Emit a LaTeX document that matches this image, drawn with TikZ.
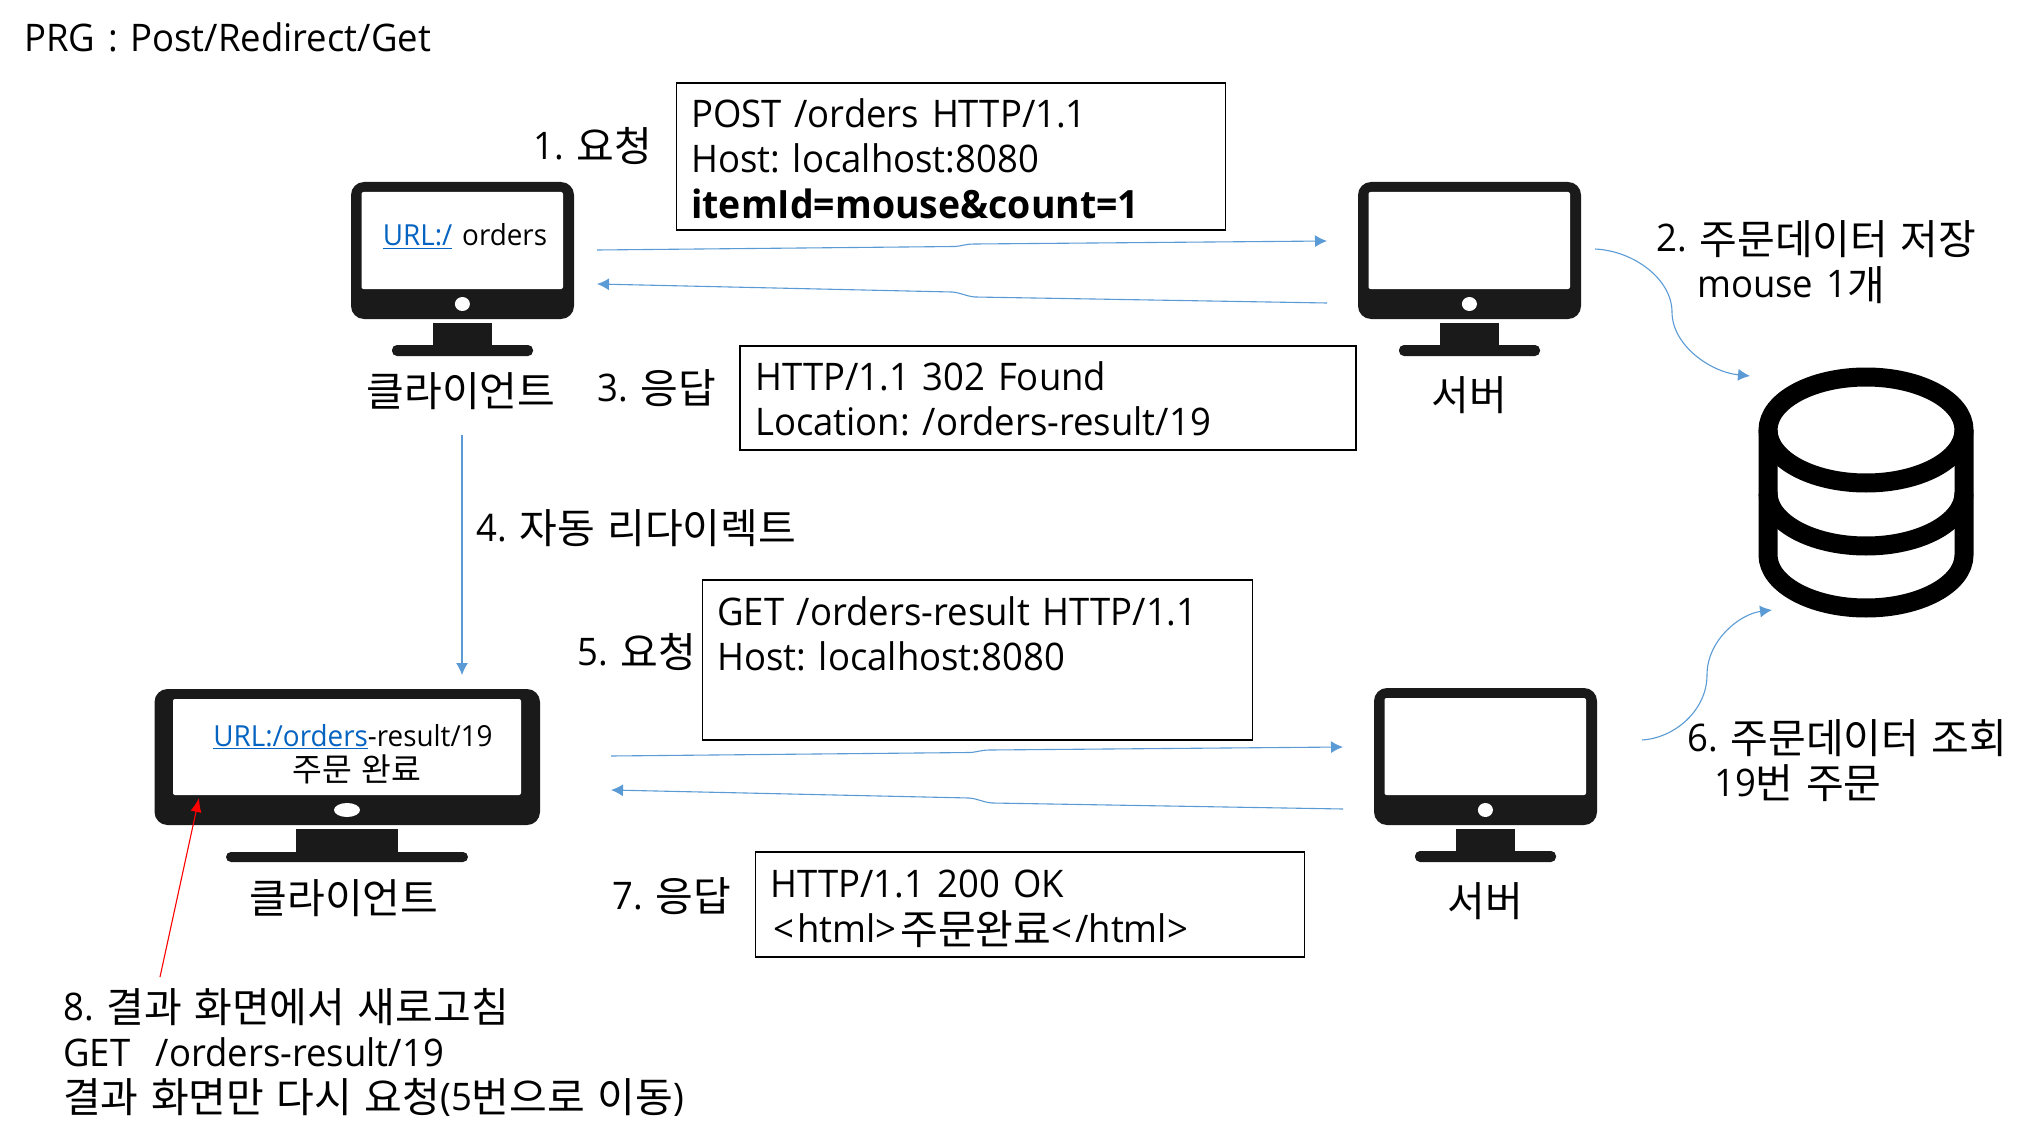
\documentclass[tikz,border=0pt]{standalone}
\usepackage{fontspec}
\setmainfont{Open Sans}[FakeStretch=0.96,WordSpace=1.35]
\newfontfamily\kr{Noto Sans CJK KR}[Scale=1.08,WordSpace=1.35]
\newcommand\K[1]{\raisebox{-2pt}{\kr #1}}
\usetikzlibrary{arrows.meta}
\definecolor{flow}{HTML}{5B9BD5}
\definecolor{monitor}{HTML}{1A1A1A}
\definecolor{linkblue}{HTML}{0563C1}
\newcommand\Lnk[1]{\textcolor{linkblue}{\underline{#1}}}
\newcommand\monitor[9]{%
  \fill[monitor,rounded corners=13pt] (#1,#3) rectangle (#2,#4);
  \fill[white,rounded corners=2pt] (#5,#3+10) -- (#5,#4-30) -- (#6,#4-30) -- (#6,#3+10) -- cycle;
  \fill[white] (#7,#4-15) ellipse [x radius=#8,y radius=7];
  \fill[monitor] (#7-#9,#4+4) rectangle (#7+#9,#4+27);
}
\tikzset{
  txt/.style={anchor=base west,inner sep=0pt,font=\fontsize{38}{45}\selectfont},
  ctr/.style={anchor=base,inner sep=0pt,font=\fontsize{38}{45}\selectfont},
  small/.style={anchor=base,inner sep=0pt,font=\fontsize{29}{36}\selectfont},
  msgbox/.style={draw=black,line width=1.8pt,fill=none},
  flowline/.style={draw=flow,line width=1.1pt,-{Latex[length=12pt,width=12pt]}},
  redline/.style={draw=red,line width=1.1pt,-{Latex[length=14pt,width=11pt]}}
}
\frenchspacing
\begin{document}
\begin{tikzpicture}[x=1pt,y=-1pt]
\useasboundingbox (0,0) rectangle (2030,1142);
\fill[white] (0,0) rectangle (2030,1142);

% monitors
\monitor{351}{574}{182}{319}{361.5}{563}{462.4}{7.5}{29.5}
\fill[monitor,rounded corners=5pt] (392,345) rectangle (533,356);
\begin{scope}[xshift=1007pt]
\monitor{351}{574}{182}{319}{361.5}{563}{462.4}{7.5}{29.5}
\fill[monitor,rounded corners=5pt] (392,345) rectangle (533,356);
\end{scope}
\begin{scope}[xshift=1023pt,yshift=-506pt]
\monitor{351}{574}{182}{319}{361.5}{563}{462.4}{7.5}{29.5}
\fill[monitor,rounded corners=5pt] (392,345) rectangle (533,356);
\end{scope}
\monitor{154.5}{540}{689}{825}{173}{521}{347}{13}{51}
\fill[monitor,rounded corners=5pt] (226,852) rectangle (468,862);

% database
\begin{scope}[line width=19pt,draw=black]
\draw (1866,430) ellipse [x radius=98,y radius=53];
\draw (1768,430) -- (1768,555) arc[start angle=180,end angle=360,x radius=98,y radius=-53] -- (1964,430);
\draw (1768,493) arc[start angle=180,end angle=360,x radius=98,y radius=-53];
\end{scope}

% text boxes
\node[msgbox,minimum width=549pt,minimum height=147pt,anchor=north west] (req1) at (675.5,82) {};
\node[msgbox,minimum width=616pt,minimum height=104pt,anchor=north west] (res1) at (739,345) {};
\node[msgbox,minimum width=550pt,minimum height=160pt,anchor=north west] (req2) at (701.5,579) {};
\node[msgbox,minimum width=549pt,minimum height=105pt,anchor=north west] (res2) at (754.5,851) {};

\node[txt] (t0) at (24,52) {PRG : Post/Redirect/Get};
\node[txt] (a1) at (691,128) {POST /orders HTTP/1.1};
\node[txt] (a2) at (691,173) {Host: localhost:8080};
\node[txt,font=\fontsize{39}{45}\selectfont\bfseries] (a3) at (691,219) {itemId=mouse\&count=1};
\node[txt] (b1) at (755,390) {HTTP/1.1 302 Found};
\node[txt] (b2) at (755,435) {Location: /orders-result/19};
\node[txt] (c1) at (717,625) {GET /orders-result HTTP/1.1};
\node[txt] (c2) at (717,670) {Host: localhost:8080};
\node[txt] (d1) at (770,897) {HTTP/1.1 200 OK};
\node[txt] (d2) at (773,942) {<\kern3pt html>\kern4pt\K{주문완료}<\kern3pt/html>};

\node[txt] (l1) at (533,160) {1. \K{요청}};
\node[txt] (l2a) at (1656,252) {2. \K{주문데이터 저장}};
\node[txt] (l2b) at (1697,298) {mouse 1\K{개}};
\node[txt] (l3) at (597,401) {3. \K{응답}};
\node[txt] (l4) at (476,541) {4. \K{자동 리다이렉트}};
\node[txt] (l5) at (577,665) {5. \K{요청}};
\node[txt] (l6a) at (1687,751) {6. \K{주문데이터 조회}};
\node[txt] (l6b) at (1714,796) {19\K{번 주문}};
\node[txt] (l7) at (612,909) {7. \K{응답}};
\node[txt] (l8a) at (63,1020) {8. \K{결과 화면에서 새로고침}};
\node[txt] (l8b) at (63,1066) {GET\ \ /orders-result/19};
\node[txt] (l8c) at (63,1110) {\K{결과 화면만 다시 요청}(5\K{번으로 이동})};

\node[ctr] (cl1) at (461,404) {\K{클라이언트}};
\node[ctr] (sv1) at (1469,408) {\K{서버}};
\node[ctr] (cl2) at (344,911) {\K{클라이언트}};
\node[ctr] (sv2) at (1485,914) {\K{서버}};

\node[small] (u1) at (465,246) {\Lnk{URL:/} orders};
\node[small] (u2) at (353,746) {\Lnk{URL:/orders}-result/19};
\node[small,font=\fontsize{30}{36}\selectfont] (u3) at (357,779) {\K{주문 완료}};

% connector ends
\coordinate (p1s) at (597,250); \coordinate (p1e) at (1327,241);
\coordinate (p2s) at (1327,303); \coordinate (p2e) at (597,284);
\coordinate (p3s) at (462,435); \coordinate (p3e) at (462,675);
\coordinate (p4s) at (611,756); \coordinate (p4e) at (1343,747);
\coordinate (p5s) at (1343,809); \coordinate (p5e) at (611,790);
\coordinate (p6s) at (1595,249); \coordinate (p6e) at (1750,376);
\coordinate (p7s) at (1642,740); \coordinate (p7e) at (1772,610);
\coordinate (p8s) at (160,977); \coordinate (p8e) at (199,798);

\draw[flowline] (p1s) -- (955,246.5) .. controls (962,246) and (965,244) .. (975,244) -- (p1e);
\draw[flowline] (p2s) -- (975,297) .. controls (965,296) and (962,293) .. (952,292) -- (p2e);
\draw[flowline] (p3s) -- (p3e);
\draw[flowline] (p4s) -- (970,752.5) .. controls (978,752) and (981,750) .. (990,750) -- (p4e);
\draw[flowline] (p5s) -- (992,803) .. controls (982,802) and (979,799) .. (969,798) -- (p5e);
\draw[flowline] (p6s) .. controls (1635,251) and (1672,280) .. (1672,312) .. controls (1672,345) and (1710,372) .. (p6e);
\draw[flowline] (p7s) .. controls (1675,738) and (1707,710) .. (1707,675) .. controls (1707,640) and (1740,614) .. (p7e);
\draw[redline] (p8s) -- (p8e);
\end{tikzpicture}
\end{document}
